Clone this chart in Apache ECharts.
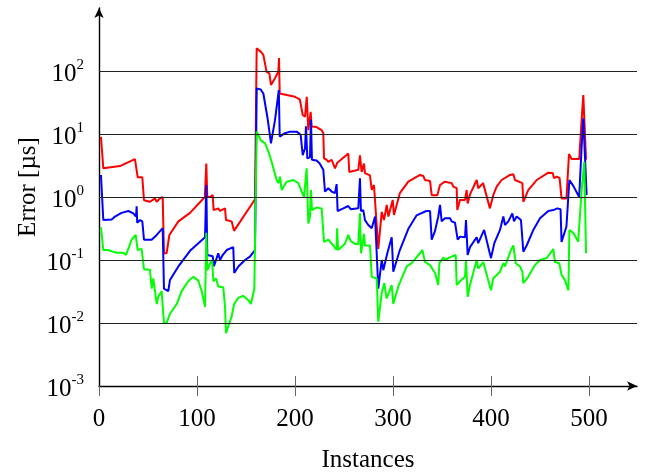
<!DOCTYPE html>
<html><head><meta charset="utf-8">
<script src="https://cdn.jsdelivr.net/npm/echarts@6/dist/echarts.min.js"></script>
<style>html,body{margin:0;padding:0;background:#fff}#c{width:651px;height:472px}</style>
</head><body><div id="c"></div>
<script>
const xTicks = [0, 100, 200, 300, 400, 500];
const yTicks = [0.001, 0.01, 0.1, 1, 10, 100];
const gridValues = [0.01, 0.1, 1, 10, 100];
const xName = 'Instances';
const yName = 'Error [µs]';

const red = [[2,9.0],[4.4,2.85],[21.4,3.1],[36.7,4.0],[39.5,2.05],[44.2,2.05],[45.9,0.89],[52,0.84],[57.1,0.95],[58.9,0.84],[62.2,0.95],[65,0.99],[66.3,0.128],[69,0.128],[71.8,0.25],[81,0.41],[92.9,0.56],[108,1.0],[109.5,3.4],[110.5,1.0],[113.3,1.0],[116,1.07],[117,0.62],[121.7,0.66],[123.5,0.6],[128.6,0.66],[129.6,0.43],[135.4,0.41],[137.8,0.29],[159.2,0.92],[160.9,229],[165,203],[167.7,180],[171,97],[173.8,92],[175.5,60],[179.6,77],[183,97],[183.7,160],[184.4,44],[191.5,41.6],[200,39],[205,35],[207.9,20],[210.2,18.8],[212,39],[213.6,11.5],[216,22.4],[217,13.1],[222,12.9],[227.2,11.5],[228.9,10.3],[229.6,4.1],[232.3,3.9],[234,3.6],[237.4,3.9],[240.8,2.85],[243.2,3.5],[254.4,4.9],[255.4,2.5],[264.6,2.7],[266.3,4.6],[268,2.5],[270.4,3.4],[271.4,2.4],[276.5,2.2],[278.3,1.3],[280.6,1.55],[282.6,1.66],[285,0.15],[288.5,0.58],[290.8,0.43],[293.6,0.75],[295.3,0.49],[299.7,0.9],[301,0.52],[307,1.15],[315.6,1.75],[327.6,2.24],[331,2.15],[332.7,1.86],[337.8,1.8],[339.5,1.07],[345.2,1.07],[348,1.55],[353,1.75],[360,1.66],[361.5,1.46],[365,1.38],[365.6,0.62],[368.4,0.9],[373.5,0.9],[375.2,1.29],[376.2,0.79],[378.6,1.1],[385.4,1.86],[387,1.38],[392,1.66],[398.9,0.66],[402.3,1.07],[405.8,1.46],[410.9,1.86],[419.4,2.24],[422.8,2.3],[424.5,1.86],[432,1.66],[433,0.84],[438,1.29],[446.6,1.86],[458.5,2.43],[463,2.4],[464.3,2.0],[467,2.1],[470,2.0],[472,0.95],[477,0.95],[479.6,4.8],[482.3,4.0],[490,4.0],[492.5,16.6],[494.2,41.6],[495.9,41.6],[497,3.9]];

const blue = [[2,2.24],[4.4,0.43],[13,0.44],[16.3,0.49],[23,0.56],[30,0.6],[35,0.55],[37.8,0.49],[38.4,0.71],[39,0.39],[41.8,0.43],[44.2,0.41],[45.9,0.21],[53.7,0.21],[58.9,0.25],[65,0.32],[66.3,0.035],[70.7,0.032],[72.4,0.048],[81,0.079],[92.9,0.14],[108.2,0.23],[109.5,1.55],[110.5,0.12],[116,0.115],[117.3,0.08],[121.7,0.128],[123.5,0.1],[126.2,0.12],[130.3,0.144],[137,0.16],[138,0.062],[142.2,0.079],[149,0.1],[154,0.113],[159.2,0.144],[160.9,53],[165,51],[167.7,44],[172,17.8],[173.8,17],[175.5,7.1],[179.6,16.6],[183.5,50],[184.4,9.1],[189.8,10.3],[194.9,10.9],[201.7,10.9],[205.8,9.7],[207.9,4.6],[210.2,5.9],[211.2,13.2],[212.6,4.1],[215.3,4.3],[216.3,17],[217.3,3.9],[222,3.8],[225.2,3.4],[228.9,2.7],[230.6,1.22],[234,1.38],[237.4,1.22],[240.8,1.15],[242.5,1.6],[243.5,0.6],[249.3,0.66],[254.4,0.72],[256.8,0.64],[264.6,0.66],[266.3,1.98],[267.3,0.6],[269.7,0.62],[271.4,0.43],[274.8,0.36],[278.3,0.32],[281.7,0.49],[283.4,0.49],[285,0.035],[288.5,0.1],[290.1,0.069],[294.2,0.128],[298.7,0.23],[300.3,0.065],[307,0.144],[316,0.32],[324,0.51],[334,0.6],[337.8,0.6],[339.5,0.21],[342.9,0.29],[346.2,0.49],[348,0.75],[349.7,0.41],[353,0.46],[358.2,0.46],[359.9,0.41],[363.3,0.39],[365,0.39],[366,0.21],[368.4,0.235],[373.5,0.23],[374.5,0.43],[376.2,0.12],[378.6,0.16],[385.4,0.23],[387,0.185],[393,0.3],[400,0.107],[403.4,0.185],[409.2,0.3],[412.6,0.49],[414.3,0.36],[417.7,0.41],[421.8,0.55],[423.5,0.41],[426.2,0.49],[430.6,0.43],[433,0.135],[436.4,0.17],[443.2,0.3],[450,0.46],[458.5,0.6],[463.6,0.62],[467.7,0.66],[471,0.64],[472,0.194],[477,0.34],[478.6,0.36],[480,1.86],[484,1.5],[490,1.0],[492.5,6.3],[494.2,17.8],[495.9,17.8],[497.6,1.07]];

const green = [[2,0.33],[4.4,0.144],[9.5,0.144],[13,0.137],[18,0.13],[24.8,0.13],[27.6,0.12],[33.3,0.21],[37.4,0.25],[39.5,0.144],[43.5,0.15],[45.9,0.071],[52,0.07],[53.8,0.035],[55.4,0.051],[57.1,0.054],[58.9,0.02],[60.5,0.026],[63.9,0.032],[66.3,0.01],[69,0.01],[72.4,0.014],[79.3,0.02],[84.4,0.032],[91.1,0.046],[96.3,0.054],[101.3,0.047],[104.8,0.032],[108.2,0.018],[109.5,0.27],[110.5,0.069],[113.3,0.087],[115.4,0.1],[116.7,0.046],[119.4,0.051],[121.7,0.038],[126.8,0.037],[128.6,0.018],[129.6,0.0069],[133,0.01],[135.4,0.0127],[137.8,0.02],[142.2,0.025],[147,0.027],[152.4,0.023],[155,0.02],[158.5,0.035],[160.9,11],[165,8.0],[169.4,7.1],[172.8,5.3],[176.2,3.6],[181.3,1.86],[183,1.66],[184.7,2.1],[186.4,1.29],[191.5,1.75],[198.3,1.86],[203.4,1.66],[206.8,1.22],[209.2,1.0],[211.9,2.85],[213.6,0.38],[215.3,0.49],[216.3,1.29],[217.3,0.62],[222,0.68],[227.2,0.66],[229.6,0.194],[234,0.21],[239.1,0.17],[242.4,0.144],[243,0.32],[244,0.144],[250.9,0.18],[254.4,0.25],[256.8,0.2],[261.2,0.18],[264.6,0.18],[266.3,0.55],[267.3,0.128],[269,0.18],[270.4,0.26],[271.4,0.17],[276.5,0.17],[278.3,0.054],[283.4,0.051],[285,0.0105],[288.5,0.03],[291.2,0.043],[293.5,0.0245],[298.7,0.04],[300.3,0.02],[305.4,0.038],[314,0.079],[319,0.089],[327.5,0.128],[330,0.144],[332.7,0.093],[337.8,0.083],[342.9,0.062],[346.2,0.04],[347.3,0.089],[349.7,0.1],[351.3,0.11],[353,0.1],[356.5,0.107],[359.9,0.113],[364,0.12],[365,0.04],[368.4,0.046],[373.5,0.054],[374.5,0.1],[376.2,0.026],[378.6,0.04],[385.4,0.1],[387,0.073],[392.1,0.093],[400,0.033],[402.3,0.051],[409.2,0.065],[412.6,0.089],[414.3,0.079],[420.4,0.144],[422.8,0.17],[425.2,0.089],[429.6,0.079],[432,0.065],[433,0.043],[438,0.054],[444.9,0.083],[450,0.1],[456.8,0.107],[463.6,0.149],[465.3,0.093],[469.7,0.089],[472,0.058],[475.5,0.048],[479,0.033],[480,0.3],[484,0.27],[489,0.195],[492.5,1.29],[495.2,3.6],[497,0.128]];

const font = 'Liberation Serif';
const chart = echarts.init(document.getElementById('c'), null, {renderer: 'canvas'});

function yFmt(v) {
  const e = Math.round(Math.log10(v));
  if (Math.abs(v / Math.pow(10, e) - 1) > 1e-6) return '';
  if (!yTicks.some(t => Math.abs(t / v - 1) < 1e-6)) return '';
  return '{b|10}{e|' + e + '}';
}

function lineSeries(name, data, color) {
  return {
    name: name, type: 'line', data: data, showSymbol: false, symbol: 'none',
    lineStyle: {color: color, width: 2}, itemStyle: {color: color},
    z: 3, animation: false
  };
}

const option = {
  animation: false,
  backgroundColor: '#fff',
  grid: {left: 99, right: 14, top: 8, bottom: 86, containLabel: false},
  xAxis: [{
    type: 'value', min: 0, max: 549, interval: 100,
    axisLine: {show: true, onZero: false, symbol: ['none', 'arrow'], symbolSize: [7, 10], lineStyle: {color: '#000', width: 1.4}},
    axisTick: {show: true, inside: false, length: 10, customValues: xTicks, lineStyle: {color: '#666', width: 1}},
    axisLabel: {customValues: xTicks, fontFamily: font, fontSize: 25, color: '#000', margin: 21,
      formatter: v => (xTicks.indexOf(v) >= 0 ? String(v) : '')},
    splitLine: {show: false}
  }, {
    type: 'value', min: 0, max: 549, interval: 100, position: 'bottom',
    axisLine: {show: false, onZero: false},
    axisTick: {show: true, inside: true, length: 10, customValues: xTicks.slice(1), lineStyle: {color: '#666', width: 1}},
    axisLabel: {show: false},
    splitLine: {show: false}
  }],
  yAxis: {
    type: 'log', logBase: 10, min: 0.001, max: 1000,
    axisLine: {show: true, onZero: false, symbol: ['none', 'arrow'], symbolSize: [7, 10], lineStyle: {color: '#000', width: 1.4}},
    axisTick: {show: false},
    splitLine: {show: false},
    axisLabel: {
      margin: 15, formatter: yFmt,
      rich: {
        b: {fontFamily: font, fontSize: 25, color: '#000', lineHeight: 26, padding: [6, 0, 0, 0]},
        e: {fontFamily: font, fontSize: 15, color: '#000', verticalAlign: 'top', lineHeight: 26, padding: [0, 0, 10, 0]}
      }
    }
  },
  series: [
    {
      name: 'grid', type: 'line', data: [], z: 1, silent: true,
      markLine: {
        silent: true, symbol: 'none', animation: false,
        label: {show: false},
        lineStyle: {color: '#222', width: 1, type: 'solid'},
        data: gridValues.map(v => ({yAxis: v}))
      }
    },
    lineSeries('red', red, '#ff0000'),
    lineSeries('blue', blue, '#0000ff'),
    lineSeries('green', green, '#00ff00')
  ],
  graphic: [
    {type: 'text', x: 28, y: 187, rotation: Math.PI / 2,
      style: {text: yName, fontFamily: font, fontSize: 25, fill: '#000', align: 'center', verticalAlign: 'middle'}},
    {type: 'text', x: 368, y: 460,
      style: {text: xName, fontFamily: font, fontSize: 25, fill: '#000', align: 'center', verticalAlign: 'middle'}}
  ]
};
chart.setOption(option);
</script>
</body></html>
